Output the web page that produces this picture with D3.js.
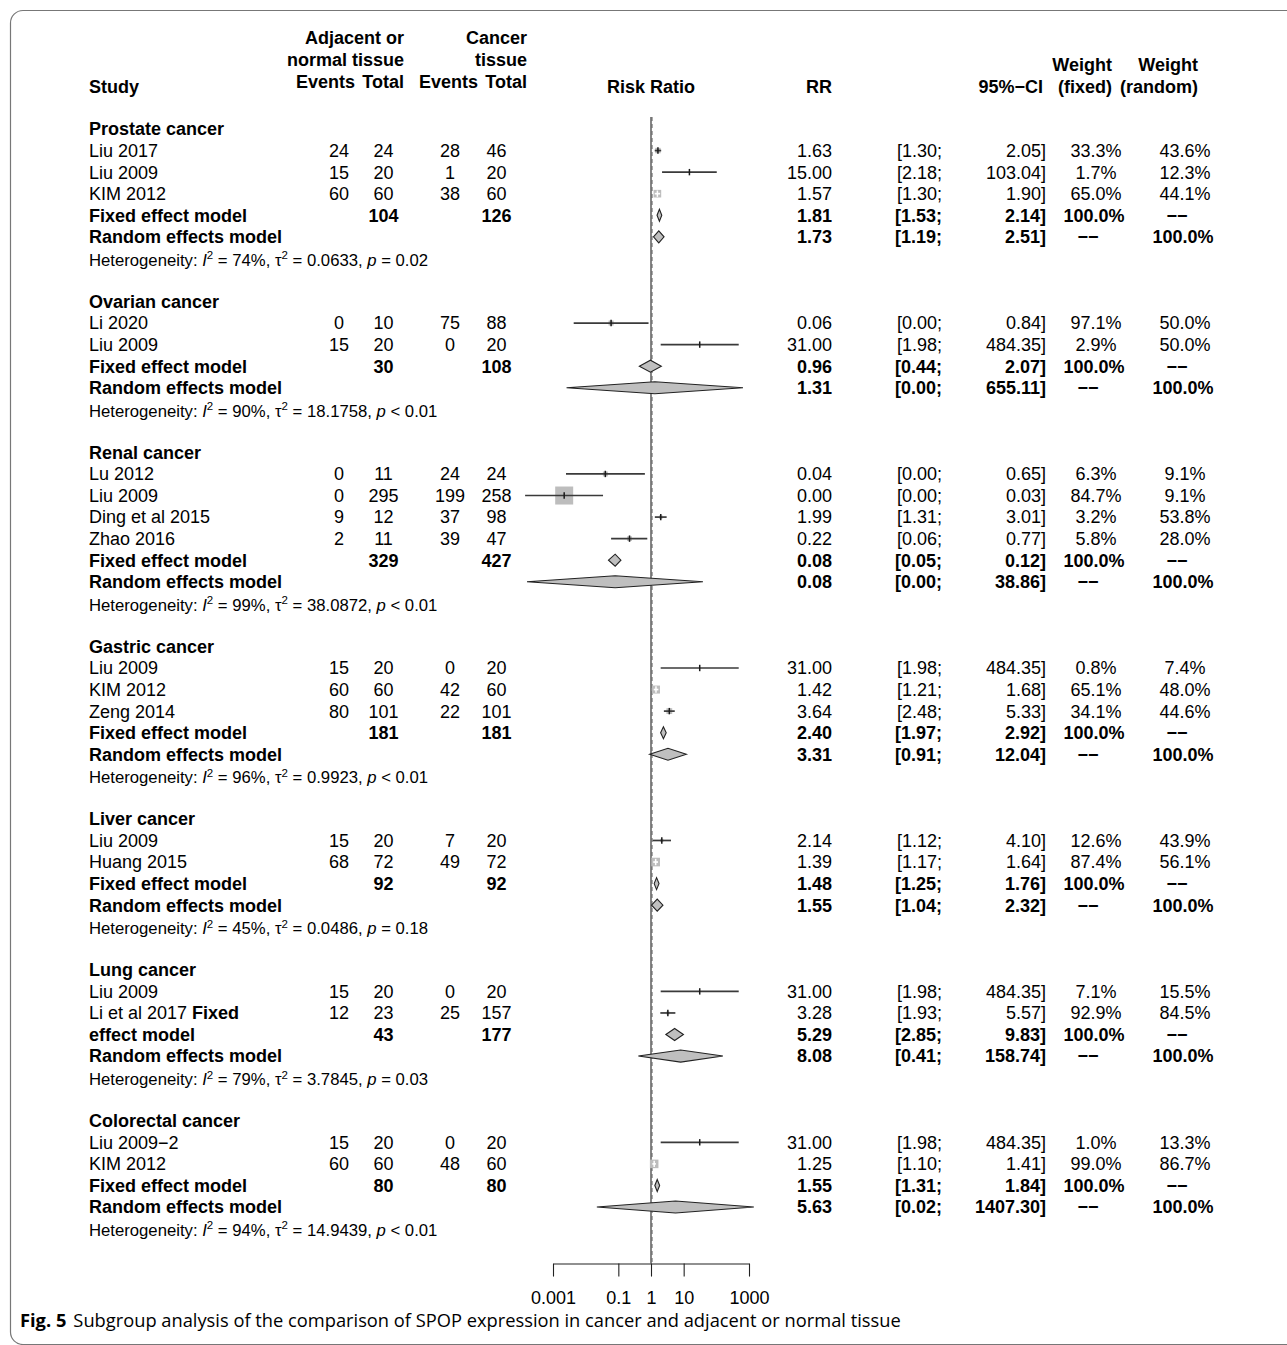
<!DOCTYPE html>
<html>
<head>
<meta charset="utf-8">
<script src="https://cdn.jsdelivr.net/npm/d3@7"></script>
<style>
  html, body { margin: 0; padding: 0; background: #fff; }
  svg text { font-family: "Liberation Sans", Arial, Helvetica, sans-serif; fill: #000; }
  .caption { font-family: "Open Sans", "Noto Sans", sans-serif; }
</style>
</head>
<body>
<svg id="chart" width="1287" height="1345"></svg>
<script>
// ---------------- data ----------------
const subgroups = ["Prostate cancer", "Ovarian cancer", "Renal cancer", "Gastric cancer",
                   "Liver cancer", "Lung cancer", "Colorectal cancer"];

// one entry per study
const studyGroup = [0, 0, 0, 1, 1, 2, 2, 2, 2, 3, 3, 3, 4, 4, 5, 5, 6, 6];
const studyName  = ["Liu 2017", "Liu 2009", "KIM 2012", "Li 2020", "Liu 2009", "Lu 2012",
                    "Liu 2009", "Ding et al 2015", "Zhao 2016", "Liu 2009", "KIM 2012", "Zeng 2014",
                    "Liu 2009", "Huang 2015", "Liu 2009", "Li et al 2017", "Liu 2009\u22122", "KIM 2012"];
const studyNameTail = ["", "", "", "", "", "", "", "", "", "", "", "", "", "", "", "Fixed", "", ""];
const adjEvents  = [24, 15, 60, 0, 15, 0, 0, 9, 2, 15, 60, 80, 15, 68, 15, 12, 15, 60];
const adjTotal   = [24, 20, 60, 10, 20, 11, 295, 12, 11, 20, 60, 101, 20, 72, 20, 23, 20, 60];
const canEvents  = [28, 1, 38, 75, 0, 24, 199, 37, 39, 0, 42, 22, 7, 49, 0, 25, 0, 48];
const canTotal   = [46, 20, 60, 88, 20, 24, 258, 98, 47, 20, 60, 101, 20, 72, 20, 157, 20, 60];
const rr         = [1.63, 15.00, 1.57, 0.06, 31.00, 0.04, 0.0022, 1.99, 0.22, 31.00, 1.42, 3.64,
                    2.14, 1.39, 31.00, 3.28, 31.00, 1.25];
const rrLower    = [1.30, 2.18, 1.30, 0.0043, 1.98, 0.0025, 0.00014, 1.31, 0.06, 1.98, 1.21, 2.48,
                    1.12, 1.17, 1.98, 1.93, 1.98, 1.10];
const rrUpper    = [2.05, 103.04, 1.90, 0.84, 484.35, 0.65, 0.034, 3.01, 0.77, 484.35, 1.68, 5.33,
                    4.10, 1.64, 484.35, 5.57, 484.35, 1.41];
const weightFixed  = [33.3, 1.7, 65.0, 97.1, 2.9, 6.3, 84.7, 3.2, 5.8, 0.8, 65.1, 34.1,
                      12.6, 87.4, 7.1, 92.9, 1.0, 99.0];
const weightRandom = [43.6, 12.3, 44.1, 50.0, 50.0, 9.1, 9.1, 53.8, 28.0, 7.4, 48.0, 44.6,
                      43.9, 56.1, 15.5, 84.5, 13.3, 86.7];

// one entry per subgroup
const fixedLabel = ["Fixed effect model", "Fixed effect model", "Fixed effect model",
                    "Fixed effect model", "Fixed effect model", "effect model", "Fixed effect model"];
const fixedRR    = [1.81, 0.96, 0.08, 2.40, 1.48, 5.29, 1.55];
const fixedLo    = [1.53, 0.44, 0.05, 1.97, 1.25, 2.85, 1.31];
const fixedHi    = [2.14, 2.07, 0.12, 2.92, 1.76, 9.83, 1.84];
const randomRR   = [1.73, 1.31, 0.08, 3.31, 1.55, 8.08, 5.63];
const randomLo   = [1.19, 0.0026, 0.00016, 0.91, 1.04, 0.41, 0.022];
const randomHi   = [2.51, 655.11, 38.86, 12.04, 2.32, 158.74, 1407.30];
const i2         = [74, 90, 99, 96, 45, 79, 94];
const tau2       = [0.0633, 18.1758, 38.0872, 0.9923, 0.0486, 3.7845, 14.9439];
const pText      = ["= 0.02", "< 0.01", "< 0.01", "< 0.01", "= 0.18", "= 0.03", "< 0.01"];

const axisTicks = [0.001, 0.1, 1, 10, 1000];
const captionLead = "Fig. 5";
const captionText = "Subgroup analysis of the comparison of SPOP expression in cancer and adjacent or normal tissue";

// ---------------- layout ----------------
const svg = d3.select("#chart");
const FS = 18;         // main text size
const FS_HET = 16.7;   // heterogeneity line
const row0 = 129, rowH = 21.56;
const rowY = k => row0 + k * rowH;
const base = y => y + 6.4;
const DASH = "\u2212\u2212";

const col = {
  study: 89,
  adjEv: 339, adjTot: 383.5, canEv: 450, canTot: 496.5,
  rr: 832, lo: 942, hi: 1046, wF: 1096, wR: 1185
};

const x = d3.scaleLog().domain([0.001, 1000]).range([553, 749]);

function txt(xp, y, s, opt = {}) {
  return svg.append("text")
    .attr("x", xp).attr("y", y)
    .attr("text-anchor", opt.anchor || "start")
    .attr("font-size", opt.size || FS)
    .attr("font-weight", opt.bold ? "bold" : null)
    .text(s);
}

const f2 = v => v.toFixed(2);
const pct = v => v.toFixed(1) + "%";

// ---------------- frame ----------------
svg.append("path")
  .attr("d", "M1300,10.5 H23 A12.5,12.5 0 0 0 10.5,23 V1332 A12.5,12.5 0 0 0 23,1344.5 H1300")
  .attr("fill", "none").attr("stroke", "#777").attr("stroke-width", 1.2);

// ---------------- header ----------------
txt(404, 44, "Adjacent or", { anchor: "end", bold: true });
txt(404, 65.5, "normal tissue", { anchor: "end", bold: true });
txt(355, 87.5, "Events", { anchor: "end", bold: true });
txt(404, 87.5, "Total", { anchor: "end", bold: true });
txt(527, 44, "Cancer", { anchor: "end", bold: true });
txt(527, 65.5, "tissue", { anchor: "end", bold: true });
txt(478, 87.5, "Events", { anchor: "end", bold: true });
txt(527, 87.5, "Total", { anchor: "end", bold: true });
txt(col.study, 93, "Study", { bold: true });
txt(x(1), 93, "Risk Ratio", { anchor: "middle", bold: true });
txt(col.rr, 93, "RR", { anchor: "end", bold: true });
txt(col.hi - 3, 93, "95%\u2212CI", { anchor: "end", bold: true });
txt(1112, 71, "Weight", { anchor: "end", bold: true });
txt(1112, 93, "(fixed)", { anchor: "end", bold: true });
txt(1198, 71, "Weight", { anchor: "end", bold: true });
txt(1198, 93, "(random)", { anchor: "end", bold: true });

// ---------------- rows ----------------
// Mantel-Haenszel style study weight, used for box areas
function mhWeight(i) {
  const zero = adjEvents[i] === 0 || canEvents[i] === 0;
  const cc = zero ? 0.5 : 0;
  const n1 = adjTotal[i] + 2 * cc, n2 = canTotal[i] + 2 * cc;
  return (canEvents[i] + cc) * n1 / (n1 + n2);
}
const studyIdx = d3.range(studyName.length);
const wMax = d3.max(studyIdx, mhWeight);
const boxSide = d3.scaleSqrt().domain([0, wMax]).range([0, 18]);

const plot = svg.append("g");
const lineCol = "#3a3a3a", boxFill = "#bdbdbd", diaFill = "#bfbfbf";

function diamond(y, est, lo, hi, h) {
  plot.append("path")
    .attr("d", `M${x(lo)},${y} L${x(est)},${y - h} L${x(hi)},${y} L${x(est)},${y + h} Z`)
    .attr("fill", diaFill).attr("stroke", "#222").attr("stroke-width", 1.1);
}

let k = 0;
subgroups.forEach((gName, g) => {
  txt(col.study, base(rowY(k)), gName, { bold: true });
  k++;

  const members = studyIdx.filter(i => studyGroup[i] === g);
  members.forEach(i => {
    const y = rowY(k), b = base(y);
    const t = txt(col.study, b, studyName[i]);
    if (studyNameTail[i]) t.append("tspan").attr("font-weight", "bold").text(" " + studyNameTail[i]);
    txt(col.adjEv, b, adjEvents[i], { anchor: "middle" });
    txt(col.adjTot, b, adjTotal[i], { anchor: "middle" });
    txt(col.canEv, b, canEvents[i], { anchor: "middle" });
    txt(col.canTot, b, canTotal[i], { anchor: "middle" });
    txt(col.rr, b, f2(rr[i]), { anchor: "end" });
    txt(col.lo, b, "[" + f2(rrLower[i]) + ";", { anchor: "end" });
    txt(col.hi, b, f2(rrUpper[i]) + "]", { anchor: "end" });
    txt(col.wF, b, pct(weightFixed[i]), { anchor: "middle" });
    txt(col.wR, b, pct(weightRandom[i]), { anchor: "middle" });

    // box, confidence interval and estimate tick
    const s = boxSide(mhWeight(i));
    const cx = x(rr[i]);
    plot.append("rect")
      .attr("x", cx - s / 2).attr("y", y - s / 2)
      .attr("width", s).attr("height", s)
      .attr("fill", boxFill);
    const inside = (x(rrUpper[i]) - x(rrLower[i])) < s;
    plot.append("line")
      .attr("x1", x(rrLower[i])).attr("x2", x(rrUpper[i]))
      .attr("y1", y).attr("y2", y)
      .attr("stroke", inside ? "#fff" : lineCol).attr("stroke-width", 1.7);
    plot.append("line")
      .attr("x1", cx).attr("x2", cx).attr("y1", y - 3.2).attr("y2", y + 3.2)
      .attr("stroke", inside ? "#fff" : "#1a1a1a").attr("stroke-width", 1.5);
    k++;
  });

  // fixed effect summary
  {
    const y = rowY(k), b = base(y);
    txt(col.study, b, fixedLabel[g], { bold: true });
    txt(col.adjTot, b, d3.sum(members, i => adjTotal[i]), { anchor: "middle", bold: true });
    txt(col.canTot, b, d3.sum(members, i => canTotal[i]), { anchor: "middle", bold: true });
    txt(col.rr, b, f2(fixedRR[g]), { anchor: "end", bold: true });
    txt(col.lo, b, "[" + f2(fixedLo[g]) + ";", { anchor: "end", bold: true });
    txt(col.hi, b, f2(fixedHi[g]) + "]", { anchor: "end", bold: true });
    txt(col.wF - 2, b, "100.0%", { anchor: "middle", bold: true });
    txt(col.wR - 8, b, DASH, { anchor: "middle", bold: true });
    diamond(y, fixedRR[g], fixedLo[g], fixedHi[g], 6);
    k++;
  }
  // random effects summary
  {
    const y = rowY(k), b = base(y);
    txt(col.study, b, "Random effects model", { bold: true });
    txt(col.rr, b, f2(randomRR[g]), { anchor: "end", bold: true });
    txt(col.lo, b, "[" + f2(randomLo[g]) + ";", { anchor: "end", bold: true });
    txt(col.hi, b, f2(randomHi[g]) + "]", { anchor: "end", bold: true });
    txt(col.wF - 8, b, DASH, { anchor: "middle", bold: true });
    txt(col.wR - 2, b, "100.0%", { anchor: "middle", bold: true });
    diamond(y, randomRR[g], randomLo[g], randomHi[g], 6);
    k++;
  }
  // heterogeneity statement
  {
    const b = base(rowY(k)) + 1;
    const t = txt(col.study, b, "Heterogeneity: ", { size: FS_HET });
    t.append("tspan").attr("font-style", "italic").text("I");
    t.append("tspan").attr("font-size", 11.5).attr("dy", -6.5).text("2");
    t.append("tspan").attr("dy", 6.5).text(` = ${i2[g]}%, \u03c4`);
    t.append("tspan").attr("font-size", 11.5).attr("dy", -6.5).text("2");
    t.append("tspan").attr("dy", 6.5).text(` = ${tau2[g].toFixed(4)}, `);
    t.append("tspan").attr("font-style", "italic").text("p");
    t.append("tspan").text(" " + pText[g]);
    k++;
  }
  k++; // spacer between subgroups
});

// ---------------- reference lines & axis ----------------
const axisY = rowY(k - 2) + 35;
plot.insert("line", ":first-child")
  .attr("x1", x(1)).attr("x2", x(1)).attr("y1", 117).attr("y2", axisY)
  .attr("stroke", "#222").attr("stroke-width", 1.1);
plot.insert("line", ":first-child")
  .attr("x1", x(1) + 1.2).attr("x2", x(1) + 1.2).attr("y1", 117).attr("y2", axisY)
  .attr("stroke", "#777").attr("stroke-width", 0.9).attr("stroke-dasharray", "4,3");

const axis = d3.axisBottom(x)
  .tickValues(axisTicks)
  .tickFormat(d => String(d))
  .tickSize(13).tickSizeOuter(0).tickPadding(15);
const ag = svg.append("g").attr("transform", `translate(0,${axisY})`).call(axis);
ag.select(".domain").attr("stroke", "#222").attr("stroke-width", 1.1);
ag.selectAll(".tick line").attr("stroke", "#222").attr("stroke-width", 1.1);
ag.selectAll(".tick text")
  .attr("font-size", FS)
  .attr("fill", "#000");

// ---------------- caption ----------------
const cap = svg.append("text").attr("class", "caption")
  .attr("x", 20).attr("y", 1327).attr("font-size", 18.3).attr("fill", "#231f20");
cap.append("tspan").attr("font-weight", "bold").text(captionLead);
cap.append("tspan").attr("dx", 7).text(captionText);
</script>
</body>
</html>
